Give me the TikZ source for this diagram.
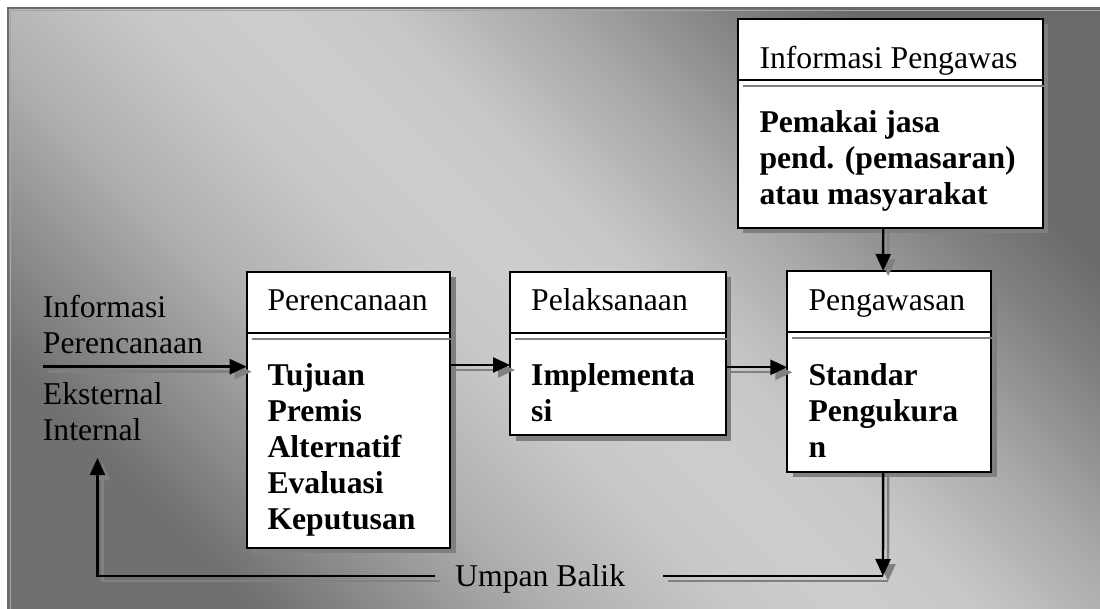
\documentclass[tikz,border=0pt]{standalone}
\usepackage{fontspec}
\setmainfont{Liberation Serif}
\usetikzlibrary{arrows.meta,shadows}

\definecolor{shadowgray}{HTML}{808080}
\definecolor{framegray}{HTML}{6A6A6A}
\definecolor{bgA}{HTML}{707070}
\definecolor{bgB}{HTML}{8A8A8A}
\definecolor{bgC}{HTML}{B0B0B0}
\definecolor{bgD}{HTML}{C8C8C8}
\definecolor{bgE}{HTML}{CDCDCD}
\definecolor{bgF}{HTML}{A8A8A8}
\definecolor{bgG}{HTML}{808080}
\definecolor{bgH}{HTML}{6A6A6A}

% diagonal panel shading: dark corners, broad light band in the middle
\pgfdeclarehorizontalshading{panel}{100bp}{%
  color(0bp)=(bgA); color(25bp)=(bgA); color(30bp)=(bgB); color(37.5bp)=(bgC);
  color(45bp)=(bgD); color(50bp)=(bgE); color(55bp)=(bgD); color(62.5bp)=(bgF);
  color(70bp)=(bgG); color(75bp)=(bgH); color(100bp)=(bgH)}

% several lines of text, first baseline on the node's baseline
\newcommand\linesof[1]{\begin{tabular}[t]{@{}l@{}}#1\end{tabular}}
% a connector with its grey drop shadow underneath
\newcommand\shadowdraw[2][]{\draw[conshadow,#1]#2;\draw[con,#1]#2;}

\begin{document}
\begin{tikzpicture}[x=1pt,y=-1pt,
  box/.style={draw=black, line width=2pt, fill=white, anchor=north west,
    inner sep=0pt, outer sep=0pt,
    drop shadow={shadow xshift=5.5pt, shadow yshift=-5.5pt, fill=shadowgray, opacity=1}},
  lbl/.style={anchor=base west, inner sep=0pt, font=\fontsize{31.7pt}{36pt}\selectfont},
  blbl/.style={anchor=base west, inner sep=0pt, font=\fontsize{31.7pt}{36pt}\selectfont\bfseries},
  con/.style={line width=2.4pt, black, line join=miter},
  conshadow/.style={line width=2.4pt, shadowgray, line join=miter,
    transform canvas={xshift=5pt,yshift=-5pt}},
  divider/.style={line width=2pt, black},
  dividershadow/.style={line width=2pt, shadowgray, transform canvas={xshift=5pt,yshift=-5.5pt}},
  arrowtip/.style={-{Triangle[length=17pt,width=15pt]}},
]
\useasboundingbox (0,0) rectangle (1100,609);

% background panel
\fill[white] (0,0) rectangle (1100,609);
\shade[shading=panel, shading angle=45] (8,8) rectangle (1100,609);
\draw[framegray, line width=2.6pt] (8,609) -- (8,8) -- (1100,8);
\draw[gray!70, line width=0.8pt] (10,609) -- (10,10) -- (1100,10);

% boxes
\node[box, minimum width=203.3pt, minimum height=276pt]   (perenc) at (246.7,271.7) {};
\node[box, minimum width=215.7pt, minimum height=163.3pt] (pelak)  at (510,271.7) {};
\node[box, minimum width=203.7pt, minimum height=200.7pt] (peng)   at (787.3,271) {};
\node[box, minimum width=305pt,   minimum height=208.7pt] (info)   at (737.7,19) {};

% header dividers
\foreach \b in {perenc,pelak,peng,info}{
  \draw[dividershadow] ([yshift=-61.5pt]\b.north west) -- ([yshift=-61.5pt]\b.north east);
  \draw[divider] ([yshift=-61.5pt]\b.north west) -- ([yshift=-61.5pt]\b.north east);
}

% box texts
\node[lbl]  (perencH) at (267.3,311) {Perencanaan};
\node[blbl] (perencB) at (267.3,385) {\linesof{Tujuan\\Premis\\Alternatif\\Evaluasi\\Keputusan}};
\node[lbl]  (pelakH)  at (531,311) {Pelaksanaan};
\node[blbl] (pelakB)  at (531,385) {\linesof{Implementa\\si}};
\node[lbl]  (pengH)   at (808.3,311) {Pengawasan};
\node[blbl] (pengB)   at (808.3,385) {\linesof{Standar\\Pengukura\\n}};
\node[lbl]  (infoH)   at (759.3,68.3) {Informasi Pengawas};
\node[blbl] (infoB)   at (759.3,132.7) {\linesof{Pemakai jasa\\pend. (pemasaran)\\atau masyarakat}};

% side texts
\node[lbl] (inlbl)  at (42.7,317.7) {\linesof{Informasi\\Perencanaan}};
\node[lbl] (extint) at (42.7,404) {\linesof{Eksternal\\Internal}};
\node[lbl] (umpan)  at (455,586) {Umpan Balik};

% connector end points
\coordinate (inStart) at (42.7,366.7);
\coordinate (fbR)   at (883,576);
\coordinate (gapR)  at (663,576);
\coordinate (gapL)  at (435,576);
\coordinate (fbL)   at (97.5,576);
\coordinate (fbTip) at (97.5,458);

% main flow
\shadowdraw[arrowtip]{(inStart) -- ([yshift=-95pt]perenc.north west)}
\shadowdraw[arrowtip]{([yshift=-93.3pt]perenc.north east) -- ([yshift=-93.3pt]pelak.north west)}
\shadowdraw[arrowtip]{([yshift=-95.6pt]pelak.north east) -- ([yshift=-96.3pt]peng.north west)}
\shadowdraw[arrowtip]{([xshift=-7pt]info.south) -- ([xshift=-6pt]peng.north)}

% feedback loop
\shadowdraw[arrowtip]{([xshift=-6pt]peng.south) -- (fbR)}
\shadowdraw{(fbR) -- (gapR)}
\shadowdraw[arrowtip]{(gapL) -- (fbL) -- (fbTip)}
\end{tikzpicture}
\end{document}
